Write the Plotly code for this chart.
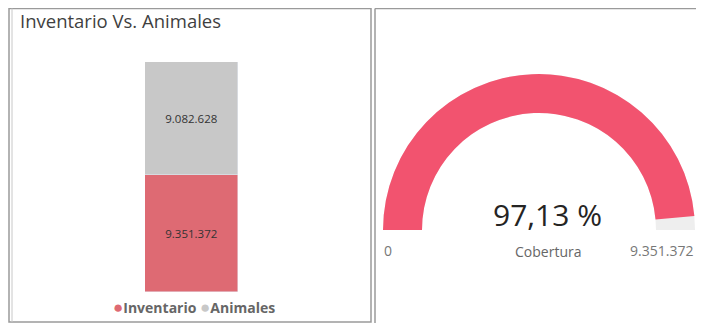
import plotly.graph_objects as go

#? data
series      = ["Inventario", "Animales"]
values      = [9351372, 9082628]
bar_colors  = ["#DE6A73", "#C8C8C8"]
gauge_label = "Cobertura"

# page body keeps its 8px margin, so the figure is shrunk and screen coords are shifted
OFF = 8
W, H = 704 - 2 * OFF, 331 - 2 * OFF
px = lambda v: (v - OFF) / W
py = lambda v: 1 - (v - OFF) / H

inventario, animales = values
pct = animales / inventario * 100

fig = go.Figure()

#? left panel - stacked bar
for name, val, col in zip(series, values, bar_colors):
    fig.add_trace(go.Bar(
        x=["Total"], y=[val], name=name, marker_color=col, width=1,
        texttemplate="%{y:,.0f}", textposition="inside", insidetextanchor="middle",
        textfont=dict(size=11.5, color="#333333", family="Open Sans"),
        showlegend=False, xaxis="x", yaxis="y"))

#? right panel - gauge
fig.add_trace(go.Indicator(
    mode="gauge", value=pct,
    gauge=dict(shape="angular",
               axis=dict(range=[0, 100], visible=False),
               bar=dict(color="#F2536F", thickness=1),
               bgcolor="#EEEEEE", borderwidth=0),
    domain=dict(x=[px(383), px(695)], y=[py(230), py(74)])))

legend_txt = " ".join(f'<span style="color:{c};font-size:17px">●</span><b>{n}</b>' for n, c in zip(series, bar_colors))
pct_txt = f"{pct:.2f}".replace(".", ",") + " %"
max_txt = f"{inventario:,}".replace(",", ".")

def note(text, x, y, size, color, anchor="center"):
    return dict(text=text, x=px(x), y=py(y), xref="paper", yref="paper",
                xanchor=anchor, yanchor="middle", showarrow=False,
                font=dict(size=size, color=color, family="Open Sans"))

fig.update_layout(
    width=W, height=H, margin=dict(l=0, r=0, t=0, b=0),
    paper_bgcolor="white", plot_bgcolor="white",
    separators=",.", barmode="stack", bargap=0,
    font=dict(family="Open Sans", color="#666666"),
    xaxis=dict(domain=[px(145), px(238)], range=[-0.5, 0.5], visible=False),
    yaxis=dict(domain=[py(292), py(62)], range=[0, sum(values)], visible=False),
    annotations=[
        note("Inventario Vs. Animales", 18, 21, 18.5, "#3F3F3F", "left"),
        note(legend_txt, 194, 306, 14, "#666666"),
        note(pct_txt, 547, 214, 30, "#252423"),
        note(gauge_label, 548, 251, 14, "#666666"),
        note("0", 382, 250, 14, "#777777", "left"),
        note(max_txt, 695, 250, 14, "#777777", "right"),
    ],
    shapes=[
        dict(type="rect", xref="paper", yref="paper", x0=px(9), x1=px(371), y0=py(322), y1=py(8.5),
             line=dict(color="#9A9A9A", width=1.5)),
        dict(type="line", xref="paper", yref="paper", x0=px(12), x1=px(12), y0=py(322), y1=py(8.5),
             line=dict(color="#C8C8C8", width=1)),
        dict(type="line", xref="paper", yref="paper", x0=px(375), x1=px(375), y0=py(323), y1=py(8.5),
             line=dict(color="#9A9A9A", width=1.5)),
        dict(type="line", xref="paper", yref="paper", x0=px(375), x1=px(696), y0=py(8.5), y1=py(8.5),
             line=dict(color="#9A9A9A", width=1.5)),
    ],
)

fig.write_html("out.html")
